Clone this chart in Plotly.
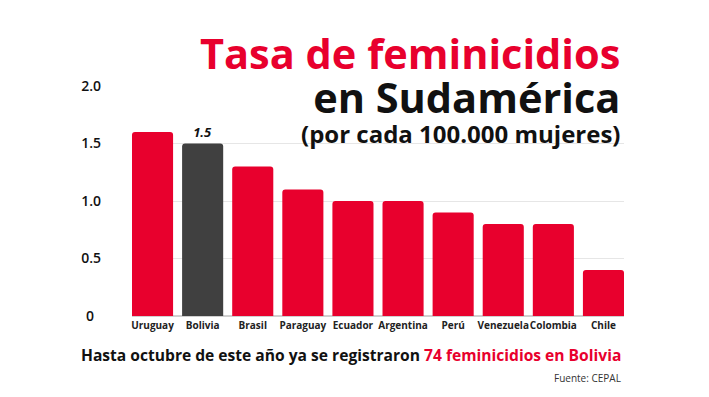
import plotly.graph_objects as go

countries = ["Uruguay", "Bolivia", "Brasil", "Paraguay", "Ecuador", "Argentina",
             "Perú", "Venezuela", "Colombia", "Chile"]
rates = [1.6, 1.5, 1.3, 1.1, 1.0, 1.0, 0.9, 0.8, 0.8, 0.4]
highlight = "Bolivia"
y_ticks = [0, 0.5, 1.0, 1.5, 2.0]
y_ticktext = ["0\u2002", "0.5", "1.0", "1.5", "2.0"]

RED = "#E8002D"
DARK = "#404040"
colors = [DARK if c == highlight else RED for c in countries]

fig = go.Figure(go.Bar(
    x=countries, y=rates, marker=dict(color=colors, line=dict(width=0)),
    text=[f"<b><i>{r:.1f}</i></b>" if c == highlight else "" for c, r in zip(countries, rates)],
    textposition="outside", cliponaxis=False,
    textfont=dict(family="Open Sans", size=13, color="#111"),
))

L, R, T, B = 132, 85, 86, 81
W, H = 709, 397
pw = W - L - R
ph = H - T - B
def px(xp):
    return (xp - L) / pw
def py(yp):
    return (H - B - yp) / ph

anns = [
    dict(text=f"<b><span style='color:{RED};font-size:41.5px'>Tasa de feminicidios</span><br>"
              "<span style='font-size:41.5px'>en Sudamérica</span></b>",
         x=px(621), y=py(75), xref="paper", yref="paper", align="right",
         xanchor="right", yanchor="middle", showarrow=False, borderpad=0,
         font=dict(family="Open Sans", size=34, color="#111")),
    dict(text="<b>(por cada 100.000 mujeres)</b>", x=px(621), y=py(133), xref="paper", yref="paper",
         xanchor="right", yanchor="middle", showarrow=False, borderpad=0,
         font=dict(family="Open Sans", size=24, color="#111")),
    dict(text="<b>Hasta octubre de este año ya se registraron "
              f"<span style='color:{RED}'>74 feminicidios en Bolivia</span></b>",
         x=px(623), y=py(355), xref="paper", yref="paper",
         xanchor="right", yanchor="middle", showarrow=False,
         font=dict(family="Open Sans", size=15.6, color="#111")),
    dict(text="Fuente: CEPAL", x=px(623), y=py(378), xref="paper", yref="paper",
         xanchor="right", yanchor="middle", showarrow=False,
         font=dict(family="Open Sans", size=10, color="#333")),
]

gap = 0.18
fig.update_layout(
    width=W, height=H,
    margin=dict(l=L, r=R, t=T, b=B, autoexpand=False),
    paper_bgcolor="white", plot_bgcolor="white",
    bargap=gap, barcornerradius=3, showlegend=False,
    font=dict(family="Open Sans"),
    xaxis=dict(range=[-0.5 + gap / 2, 9.5 - gap / 2], showgrid=False, showline=False,
               ticks="", tickangle=0, automargin=False,
               tickfont=dict(family="Open Sans", size=10, color="#222", weight=700),
               ticklabelstandoff=2),
    yaxis=dict(range=[0, 2.0], tickvals=y_ticks, ticktext=y_ticktext, automargin=False,
               showgrid=True, gridcolor="#E6E6E6", gridwidth=1,
               zeroline=True, zerolinecolor="#D0D0D0", showline=False,
               tickfont=dict(family="Open Sans", size=14, color="#111", weight=600),
               ticklabelstandoff=30),
    annotations=anns,
)

fig.write_html("out.html", config={"displayModeBar": False},
               post_script="document.body.style.margin='0';document.body.style.overflow='hidden';")
